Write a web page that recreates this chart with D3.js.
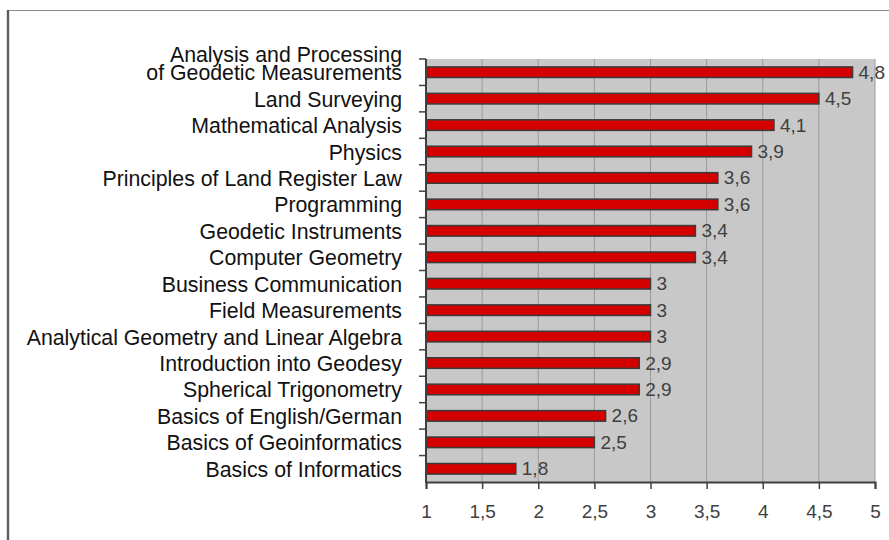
<!DOCTYPE html>
<html>
<head>
<meta charset="utf-8">
<script src="https://cdn.jsdelivr.net/npm/d3@7"></script>
<style>
  body { margin: 0; background: #fff; }
  svg { display: block; font-family: Arial, 'Liberation Sans', sans-serif; }
</style>
</head>
<body>
<svg class="chart" width="889" height="540"></svg>
<script>
// subjects, top to bottom
var subjects = [
  'Analysis and Processing|of Geodetic Measurements',
  'Land Surveying',
  'Mathematical Analysis',
  'Physics',
  'Principles of Land Register Law',
  'Programming',
  'Geodetic Instruments',
  'Computer Geometry',
  'Business Communication',
  'Field Measurements',
  'Analytical Geometry and Linear Algebra',
  'Introduction into Geodesy',
  'Spherical Trigonometry',
  'Basics of English/German',
  'Basics of Geoinformatics',
  'Basics of Informatics'
]
var grades = [4.8, 4.5, 4.1, 3.9, 3.6, 3.6, 3.4, 3.4, 3, 3, 3, 2.9, 2.9, 2.6, 2.5, 1.8]
var xTicks = [1, 1.5, 2, 2.5, 3, 3.5, 4, 4.5, 5]

// comma as decimal separator
function fmt(v) {
  return String(v).replace('.', ',')
}

function drawChart() {
  var svg = d3.select('.chart')

  // outer frame (top and left edges are visible)
  svg.append('line')
    .attr('x1', 8).attr('x2', 889).attr('y1', 10.5).attr('y2', 10.5)
    .attr('stroke', '#8a8a8a').attr('stroke-width', 1.2)
  svg.append('line')
    .attr('x1', 8).attr('x2', 8).attr('y1', 10).attr('y2', 540)
    .attr('stroke', '#5e5e5e').attr('stroke-width', 2.4)

  var plotLeft = 426, plotRight = 875, plotTop = 59, plotBottom = 482

  var x = d3.scaleLinear().domain([1, 5]).range([plotLeft, plotRight])
  var y = d3.scaleBand().domain(subjects).range([plotTop, plotBottom]).paddingInner(0.6).paddingOuter(0.3)
  var band = d3.scaleBand().domain(subjects).range([plotTop, plotBottom])

  // plot background
  svg.append('rect')
    .attr('x', plotLeft).attr('y', plotTop)
    .attr('width', plotRight - plotLeft).attr('height', plotBottom - plotTop)
    .attr('fill', '#c8c8c8')

  // vertical grid lines
  svg.append('g')
    .selectAll('line')
    .data(xTicks.slice(1))
    .enter()
    .append('line')
    .attr('x1', d => x(d)).attr('x2', d => x(d))
    .attr('y1', plotTop).attr('y2', plotBottom)
    .attr('stroke', '#9a9a9a').attr('stroke-width', 1)

  // bars
  svg.append('g')
    .selectAll('rect')
    .data(grades)
    .enter()
    .append('rect')
    .attr('x', x(1))
    .attr('y', (d, i) => y(subjects[i]))
    .attr('width', d => x(d) - x(1))
    .attr('height', y.bandwidth())
    .attr('fill', '#d40000')
    .attr('stroke', '#3a3a3a')
    .attr('stroke-width', 1.5)

  // value labels
  svg.append('g')
    .selectAll('text')
    .data(grades)
    .enter()
    .append('text')
    .attr('x', d => x(d) + 6)
    .attr('y', (d, i) => band(subjects[i]) + band.bandwidth() / 2 + 6.5)
    .attr('fill', '#404040')
    .attr('font-size', 19)
    .text(d => fmt(d))

  // left axis: line + ticks at band boundaries
  var yAxis = svg.append('g')
  yAxis.append('line')
    .attr('x1', plotLeft).attr('x2', plotLeft).attr('y1', plotTop).attr('y2', plotBottom + 1)
    .attr('stroke', '#404040').attr('stroke-width', 2)
  yAxis.selectAll('.tk')
    .data(subjects)
    .enter()
    .append('line')
    .attr('x1', plotLeft - 7).attr('x2', plotLeft)
    .attr('y1', d => band(d)).attr('y2', d => band(d))
    .attr('stroke', '#404040').attr('stroke-width', 1.5)

  // category labels (a '|' splits a label over two lines)
  var labels = svg.append('g')
    .selectAll('text')
    .data(subjects)
    .enter()
    .append('text')
    .attr('x', 402)
    .attr('y', d => band(d) + band.bandwidth() / 2 + 8)
    .attr('text-anchor', 'end')
    .attr('fill', '#111')
    .attr('font-size', 21.3)
  labels.each(function(d) {
    var parts = d.split('|')
    var t = d3.select(this)
    parts.forEach(function(p, k) {
      t.append('tspan')
        .attr('x', 402)
        .attr('dy', k == 0 ? -(parts.length - 1) * 18 : 18)
        .text(p)
    })
  })

  // bottom axis
  var xAxis = svg.append('g')
    .attr('transform', 'translate(0,' + plotBottom + ')')
    .call(d3.axisBottom(x).tickValues(xTicks).tickSize(7).tickPadding(16).tickFormat(fmt))
  xAxis.attr('font-size', 19).attr('font-family', 'Arial, Liberation Sans, sans-serif')
  xAxis.select('.domain').attr('stroke', '#404040').attr('stroke-width', 2)
  xAxis.selectAll('.tick line').attr('stroke', '#404040').attr('stroke-width', 1.5)
  xAxis.selectAll('.tick text').attr('fill', '#404040')
}

drawChart()
</script>
</body>
</html>
